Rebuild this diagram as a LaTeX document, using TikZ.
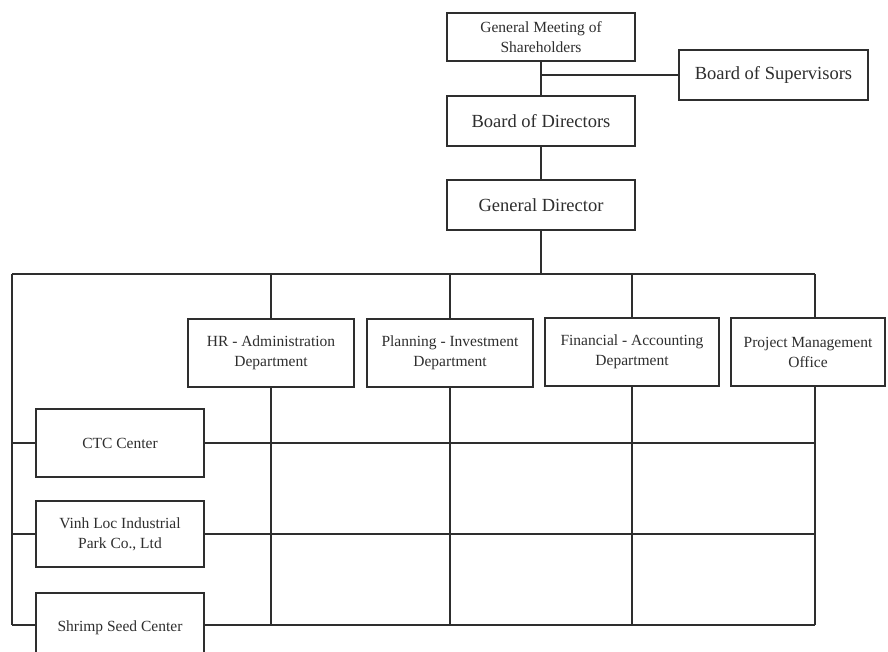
\documentclass[tikz,border=0pt]{standalone}
\usepackage{fontspec}
\setmainfont{Liberation Serif}
\definecolor{ink}{HTML}{2E2E2E}
\begin{document}
\begin{tikzpicture}[x=1pt,y=-1pt,
  box/.style={draw=ink, line width=1.6pt, fill=white, inner sep=0pt, align=center, text=ink},
  big/.style={font=\fontsize{18.5}{21}\selectfont},
  small/.style={font=\fontsize{15.5}{20}\selectfont},
  conn/.style={draw=ink, line width=1.6pt}]
\useasboundingbox[fill=white] (0,0) rectangle (888,652);
% top chain
\node[box, small, minimum width=188pt, minimum height=48pt] (gms) at (541,37) {General Meeting of\\Shareholders};
\node[box, big, minimum width=189pt, minimum height=50pt] (bos) at (773.5,75) {Board of Supervisors};
\node[box, big, minimum width=188pt, minimum height=50pt] (bod) at (541,121) {Board of Directors};
\node[box, big, minimum width=188pt, minimum height=50pt] (gd) at (541,205) {General Director};
% departments
\node[box, small, minimum width=166pt, minimum height=68pt] (hr) at (271,353) {HR - Administration\\Department};
\node[box, small, minimum width=166pt, minimum height=68pt] (pl) at (450,353) {Planning - Investment\\Department};
\node[box, small, minimum width=174pt, minimum height=68pt] (fin) at (632,352) {Financial - Accounting\\Department};
\node[box, small, minimum width=154pt, minimum height=68pt] (pmo) at (808,352) {Project Management\\Office};
% units
\node[box, small, minimum width=168pt, minimum height=68pt] (ctc) at (120,443) {CTC Center};
\node[box, small, minimum width=168pt, minimum height=66pt] (vl) at (120,534) {Vinh Loc Industrial\\Park Co., Ltd};
\node[box, small, minimum width=168pt, minimum height=70pt] (ss) at (120,628) {Shrimp Seed Center};
% coordinates
\coordinate (busM) at (541,274);
\coordinate (busL) at (12,274);
\coordinate (busR) at (815,274);
\coordinate (pmoT) at (815,318);
\coordinate (pmoB) at (815,386);
\coordinate (lss) at (12,625);
\coordinate (rss) at (815,625);
% connectors
\draw[conn] (gms) -- (bod);
\draw[conn] (gms.south |- bos.west) -- (bos.west);
\draw[conn] (bod) -- (gd);
\draw[conn] (gd) -- (busM);
\draw[conn] (busL) -- (busR);
\draw[conn] (hr.north |- busL) -- (hr.north);
\draw[conn] (pl.north |- busL) -- (pl.north);
\draw[conn] (fin.north |- busL) -- (fin.north);
\draw[conn] (busR) -- (pmoT);
\draw[conn] (busL) -- (lss);
\draw[conn] (busL |- ctc.west) -- (ctc.west);
\draw[conn] (busL |- vl.west) -- (vl.west);
\draw[conn] (lss) -- (ss.west |- lss);
\draw[conn] (ctc.east) -- (busR |- ctc.east);
\draw[conn] (vl.east) -- (busR |- vl.east);
\draw[conn] (ss.east |- rss) -- (rss);
\draw[conn] (hr.south) -- (hr.south |- rss);
\draw[conn] (pl.south) -- (pl.south |- rss);
\draw[conn] (fin.south) -- (fin.south |- rss);
\draw[conn] (pmoB) -- (rss);
\end{tikzpicture}
\end{document}
